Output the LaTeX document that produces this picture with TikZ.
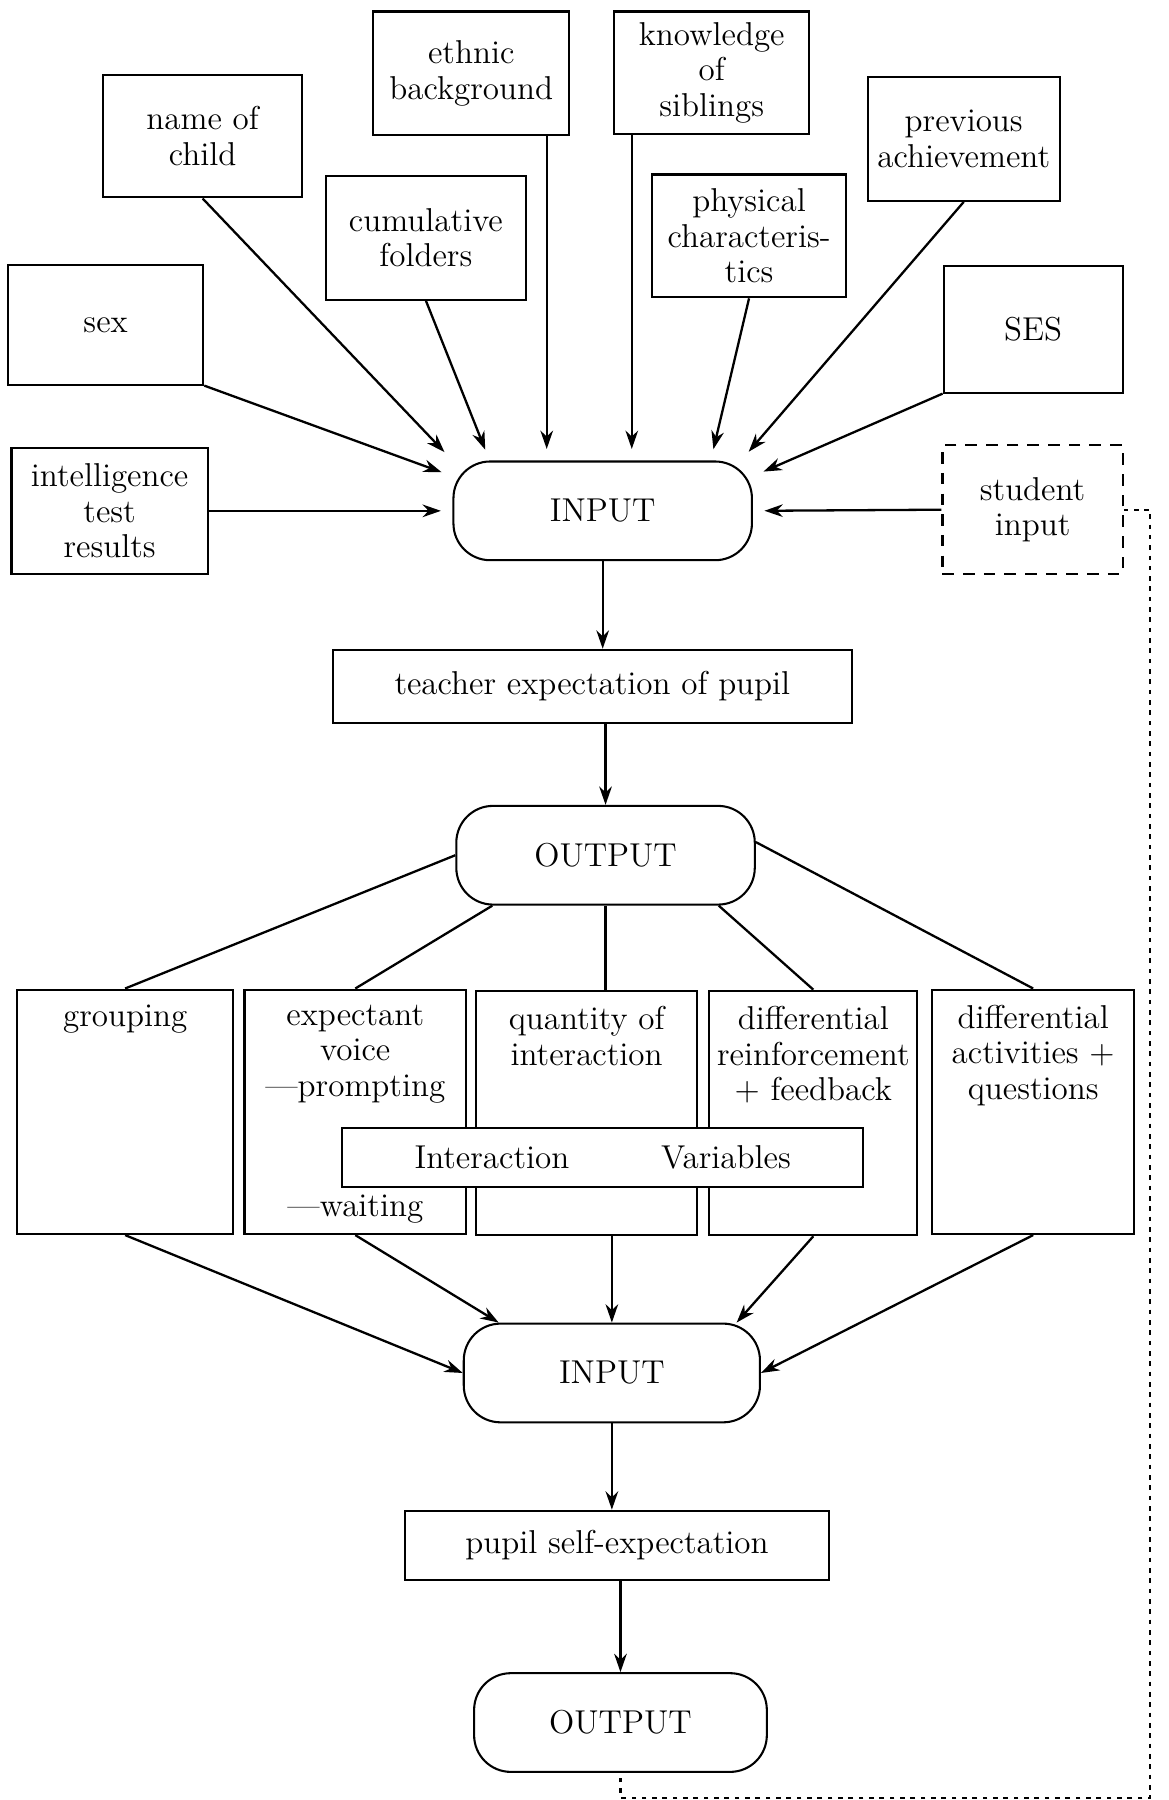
\documentclass[tikz,border=0pt]{standalone}
\usepackage{tikz}
\usetikzlibrary{arrows.meta,positioning,calc}

\begin{document}
\begin{tikzpicture}[x=0.5pt, y=-0.5pt,
                    every node/.style={font=\fontsize{14.4}{15.5}\selectfont},
                    factbox/.style={draw, line width=0.9pt, align=center, inner sep=2pt},
                    pill/.style={draw, line width=0.9pt, rounded corners=16pt,
                                 minimum width=130pt, minimum height=43pt},
                    colbox/.style={draw, line width=0.9pt, minimum height=106.5pt},
                    lab/.style={anchor=north, align=center, inner sep=7pt},
                    arr/.style={-{Stealth[length=8pt,width=5.5pt]}, line width=1pt},
                    gap/.style={shorten >=5pt},
                    link/.style={line width=1pt},
                    fback/.style={line width=0.9pt, dash pattern=on 2pt off 2.5pt}
                ]
                    \useasboundingbox (0,0) rectangle (1018,1568);
                    % what the teacher knows
                    \node[factbox, minimum width=85.5pt, minimum height=54pt] (ethnic) at (410.5,64) {ethnic\\background};
                    \node[factbox, minimum width=85pt, minimum height=53.5pt] (sibs) at (620,63.5) {knowledge\\of\\siblings};
                    \node[factbox, minimum width=86.5pt, minimum height=53.5pt] (name) at (176.5,118.5) {name of\\child};
                    \node[factbox, minimum width=83.5pt, minimum height=54pt] (prev) at (839.5,121) {previous\\achievement};
                    \node[factbox, minimum width=87pt, minimum height=54pt] (folders) at (371,207) {cumulative\\folders};
                    \node[factbox, minimum width=84.5pt, minimum height=53.5pt] (phys) at (652.5,205.5) {physical\\characteris-\\tics};
                    \node[factbox, minimum width=85pt, minimum height=52pt] (sex) at (92,283) {sex};
                    \node[factbox, minimum width=78pt, minimum height=55pt] (ses) at (900,287) {SES};
                    \node[factbox, minimum width=85.5pt, minimum height=55pt] (iq) at (95.5,445) {intelligence\\test\\results};
                    \node[factbox, dash pattern=on 5pt off 4pt, minimum width=78.5pt, minimum height=56pt] (stud) at (899.5,444) {student\\input};
                    % main chain
                    \node[pill] (in1) at (525,445) {INPUT};
                    \node[factbox, minimum width=226pt, minimum height=32pt] (teach) at (516,598) {teacher expectation of pupil};
                    \node[pill] (out1) at (527.5,745) {OUTPUT};
                    % interaction columns
                    \node[colbox, minimum width=94pt, label={[lab]north:grouping}] (grp) at (109,968.5) {};
                    \node[colbox, minimum width=96.5pt, label={[lab]north:expectant\\voice\\---prompting},
                          label={[lab, anchor=south, inner sep=5pt]south:---waiting}] (voice) at (309.5,968.5) {};
                    \node[colbox, minimum width=96pt, label={[lab]north:quantity of\\interaction}] (qty) at (511,969.5) {};
                    \node[colbox, minimum width=90.5pt, label={[lab]north:differential\\reinforcement\\+ feedback}] (reinf) at (708.5,969.5) {};
                    \node[colbox, minimum width=88pt, label={[lab]north:differential\\activities +\\questions}] (activ) at (900,968.5) {};
                    \node[factbox, fill=white, minimum width=227pt, minimum height=25.5pt] (ivars) at (525,1008.5) {Interaction\hspace{40pt}Variables};
                    \node[pill, minimum width=129pt] (in2) at (533,1196) {INPUT};
                    \node[factbox, minimum width=184.5pt, minimum height=30pt] (self) at (537.5,1346) {pupil self-expectation};
                    \node[pill, minimum width=127.5pt] (out2) at (540.5,1500.5) {OUTPUT};
                    \coordinate (fbcorner) at (1002,1566);

                    \draw[arr, gap] (name.south) -- (in1.north west);
                    \draw[arr, gap] (folders.south) -- (in1.156);
                    \draw[arr, gap] (ethnic.south -| in1.138) -- (in1.138);
                    \draw[arr, gap] (sibs.south -| in1.60) -- (in1.60);
                    \draw[arr, gap] (phys.south) -- (in1.25);
                    \draw[arr, gap] (prev.south) -- (in1.20);
                    \draw[arr, gap] (sex.south east) -- (in1.167);
                    \draw[arr, gap] (iq.east) -- (in1.west);
                    \draw[arr, gap] (ses.south west) -- (in1.13);
                    \draw[arr, gap] (stud.west) -- (in1.east);
                    \draw[arr] (in1.south) -- (in1.south |- teach.north);
                    \draw[arr] (out1.north |- teach.south) -- (out1.north);
                    \draw[link] (out1.west) -- (grp.north);
                    \draw[link] (out1.204) -- (voice.north);
                    \draw[link] (out1.south) -- (out1.south |- qty.north);
                    \draw[link] (out1.336) -- (reinf.north);
                    \draw[link] (out1.5) -- (activ.north);
                    \draw[arr] (grp.south) -- (in2.west);
                    \draw[arr] (voice.south) -- (in2.156);
                    \draw[arr] (in2.north |- qty.south) -- (in2.north);
                    \draw[arr] (reinf.south) -- (in2.22);
                    \draw[arr] (activ.south) -- (in2.east);
                    \draw[arr] (in2.south) -- (in2.south |- self.north);
                    \draw[arr] (out2.north |- self.south) -- (out2.north);
                    % feedback to the student
                    \draw[fback] (stud.east) -| (fbcorner) -| (out2.south);
                \end{tikzpicture}
\end{document}
